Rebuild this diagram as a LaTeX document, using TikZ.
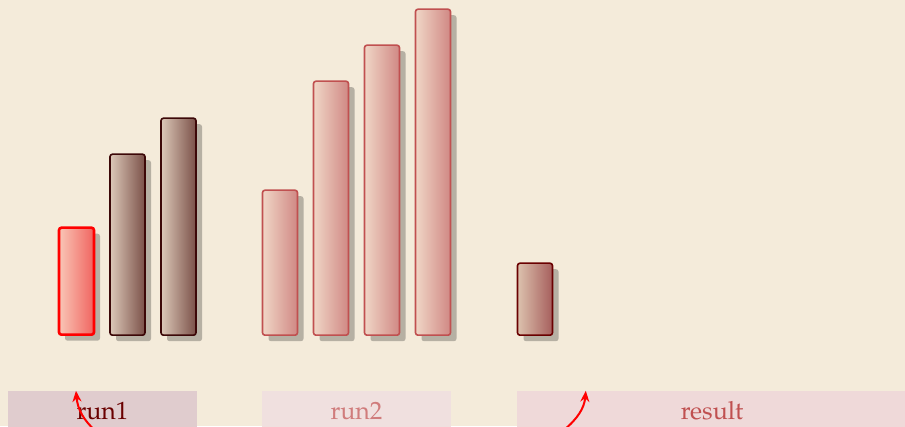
\documentclass[tikz,border=0pt]{standalone}
\usepackage[T1]{fontenc}
\usepackage{mathpazo}
\usetikzlibrary{arrows.meta,positioning,shadows}
\definecolor{bgcream}{HTML}{F4EBDA}
\definecolor{hotL}{HTML}{F9C6B6}
\definecolor{hotR}{HTML}{F06460}
\definecolor{doneL}{HTML}{DCC8B8}
\definecolor{doneR}{HTML}{7A5048}
\definecolor{doneD}{HTML}{3C0808}
\definecolor{waitL}{HTML}{F0D6C6}
\definecolor{waitR}{HTML}{D08884}
\definecolor{waitD}{HTML}{C05050}
\definecolor{outL}{HTML}{DCC2AE}
\definecolor{outR}{HTML}{A65E5C}
\definecolor{outD}{HTML}{6A0000}
\definecolor{run1bg}{HTML}{E0CCCE}
\definecolor{run2bg}{HTML}{F0E0DF}
\definecolor{resbg}{HTML}{EFD9D9}

\begin{document}
\begin{tikzpicture}[x=1pt, y=1pt,
    every node/.style={align=center},
    bar/.style={rectangle, rounded corners=2.5pt, line width=1.6pt,
                minimum width=35pt, inner sep=0pt, anchor=south,
                drop shadow={shadow xshift=6pt, shadow yshift=-6pt,
                             opacity=0.25, fill=black}},
    hotbar/.style={bar, draw=red, line width=2.6pt,
                   left color=hotL, right color=hotR},
    donebar/.style={bar, draw=doneD, left color=doneL, right color=doneR},
    waitbar/.style={bar, draw=waitD, left color=waitL, right color=waitR},
    outbar/.style={bar, draw=outD, left color=outL, right color=outR},
    lbl/.style={rectangle, minimum height=40pt, inner sep=0pt,
                font=\fontsize{25}{30}\selectfont},
    arr/.style={-{Stealth[length=11pt, width=9pt]}, draw=red, line width=2pt}
  ]
  \fill[bgcream] (0,0) rectangle (905,426);
  \useasboundingbox (0,0) rectangle (905,426);

  % first run
  \node[hotbar, minimum height=107pt] (r1a) at (76.5, 90) {};
  \node[donebar, minimum height=181pt] (r1b) at (127.5, 90) {};
  \node[donebar, minimum height=217pt] (r1c) at (178.5, 90) {};

  % second run
  \node[waitbar, minimum height=145pt] (r2a) at (280, 90) {};
  \node[waitbar, minimum height=254pt] (r2b) at (331, 90) {};
  \node[waitbar, minimum height=290pt] (r2c) at (382, 90) {};
  \node[waitbar, minimum height=326pt] (r2d) at (433, 90) {};

  % merged output
  \node[outbar, minimum height=72pt] (res) at (535, 90) {};

  \node[lbl, fill=run1bg, text=outD, minimum width=189pt]
    (run1) at (102.5, 15) {run1};
  \node[lbl, fill=run2bg, text=waitD!75!white, minimum width=189pt]
    (run2) at (356.5, 15) {run2};
  \node[lbl, fill=resbg, text=waitD, minimum width=390pt]
    (result) at (712, 15) {result};

  \coordinate (from1) at (97, -6);
  \coordinate (from2) at (564, -4);
  \draw[arr] (from1) to[out=140, in=-85] ([xshift=-26.5pt]run1.north);
  \draw[arr] (from2) to[out=40, in=-95] ([xshift=69pt]result.north west);
\end{tikzpicture}
\end{document}
